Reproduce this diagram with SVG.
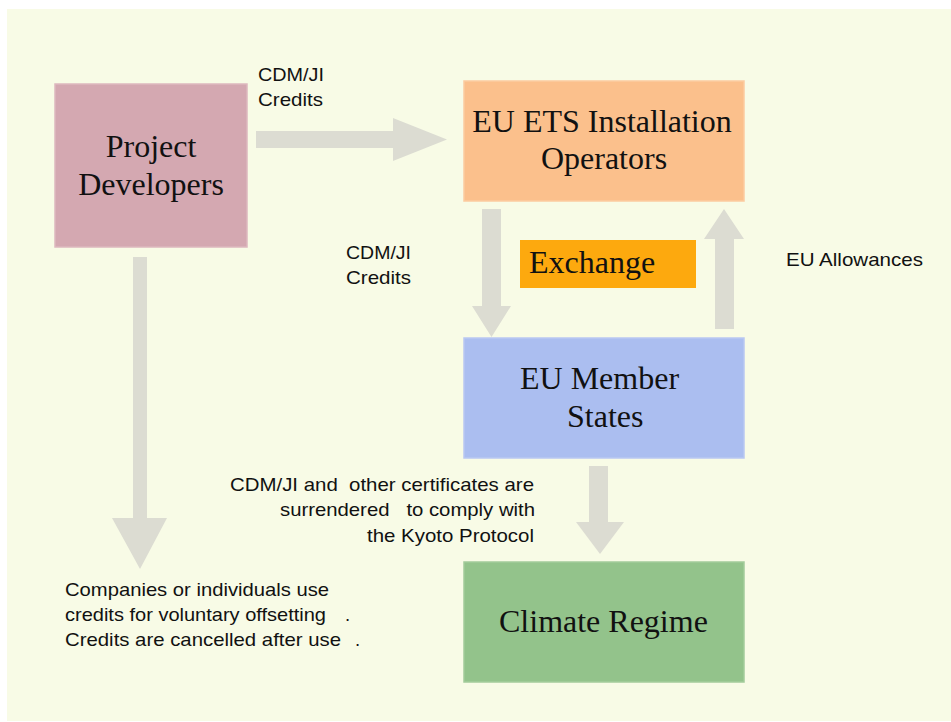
<svg xmlns="http://www.w3.org/2000/svg" width="951" height="722" viewBox="0 0 951 722">
  <style>
    .node { stroke-width: 1.5; }
    .title { font-family: "Liberation Serif", "Times New Roman", serif; font-size: 32px; fill: #111; }
    .label { font-family: "Liberation Sans", Arial, sans-serif; font-size: 18.5px; fill: #111; white-space: pre; }
    .flow { fill: #DCDCD2; }
  </style>

  <!-- page -->
  <rect x="0" y="0" width="951" height="722" fill="#FFFFFF"/>
  <rect x="7" y="9" width="944" height="712" fill="#F8FBE6"/>

  <!-- connectors -->
  <g id="connectors">
    <!-- credits to installation operators -->
    <polygon class="flow" points="256,131 393,131 393,118 447,139.5 393,161 393,148 256,148"/>
    <!-- operators to member states -->
    <polygon class="flow" points="482,209 501,209 501,306 511,306 491.5,337 472,306 482,306"/>
    <!-- allowances back to operators -->
    <polygon class="flow" points="715,329 715,239 704,239 724,209 744,239 734,239 734,329"/>
    <!-- member states to climate regime -->
    <polygon class="flow" points="589,466 608,466 608,522 624,522 600,554 576,522 589,522"/>
    <!-- voluntary offsetting -->
    <polygon class="flow" points="133,257 147,257 147,518 167,518 140,569 112,518 133,518"/>

    <text class="label" x="258" y="81" textLength="66" lengthAdjust="spacingAndGlyphs">CDM/JI</text>
    <text class="label" x="258" y="106" textLength="65" lengthAdjust="spacingAndGlyphs">Credits</text>

    <text class="label" x="346" y="259" textLength="65" lengthAdjust="spacingAndGlyphs">CDM/JI</text>
    <text class="label" x="346" y="284" textLength="65" lengthAdjust="spacingAndGlyphs">Credits</text>

    <text class="label" x="786" y="266" textLength="137" lengthAdjust="spacingAndGlyphs">EU Allowances</text>

    <text class="label" x="230" y="491" textLength="304" lengthAdjust="spacingAndGlyphs">CDM/JI and  other certificates are</text>
    <text class="label" x="280" y="516" textLength="255" lengthAdjust="spacingAndGlyphs">surrendered   to comply with</text>
    <text class="label" x="367" y="542" textLength="167" lengthAdjust="spacingAndGlyphs">the Kyoto Protocol</text>

    <text class="label" x="65" y="596" textLength="264" lengthAdjust="spacingAndGlyphs">Companies or individuals use</text>
    <text class="label" x="65" y="621" textLength="261" lengthAdjust="spacingAndGlyphs">credits for voluntary offsetting</text>
    <text class="label" x="345" y="621" font-size="12">.</text>
    <text class="label" x="65" y="646" textLength="276" lengthAdjust="spacingAndGlyphs">Credits are cancelled after use</text>
    <text class="label" x="355" y="646" font-size="12">.</text>
  </g>

  <!-- nodes -->
  <g id="project-developers">
    <rect class="node" x="55" y="84" width="192" height="163" fill="#D4A8B1" stroke="#DDB8BF"/>
    <text class="title" x="151" y="157" text-anchor="middle">Project</text>
    <text class="title" x="151" y="195" text-anchor="middle">Developers</text>
  </g>

  <g id="installation-operators">
    <rect class="node" x="464" y="81" width="280" height="120" fill="#FBC08C" stroke="#FCCBA0"/>
    <text class="title" x="602" y="132" text-anchor="middle">EU ETS Installation</text>
    <text class="title" x="604" y="169" text-anchor="middle">Operators</text>
  </g>

  <g id="exchange">
    <rect x="520" y="240" width="176" height="48" fill="#FDA90E"/>
    <text class="title" x="529" y="273">Exchange</text>
  </g>

  <g id="member-states">
    <rect class="node" x="464" y="338" width="280" height="120" fill="#ABBEF0" stroke="#B9C8F2"/>
    <text class="title" x="520" y="389">EU Member</text>
    <text class="title" x="567" y="427">States</text>
  </g>

  <g id="climate-regime">
    <rect class="node" x="464" y="562" width="280" height="120" fill="#93C38B" stroke="#A3CC9B"/>
    <text class="title" x="499" y="632">Climate  Regime</text>
  </g>
</svg>
